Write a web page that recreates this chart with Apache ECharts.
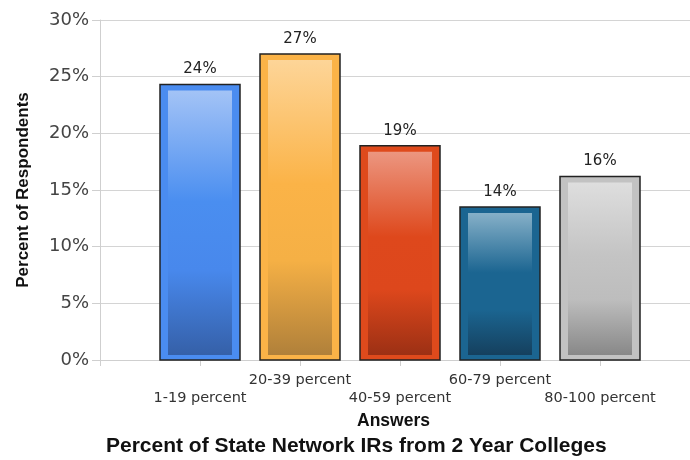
<!DOCTYPE html>
<html>
<head>
<meta charset="utf-8">
<script src="https://cdn.jsdelivr.net/npm/echarts@6/dist/echarts.min.js"></script>
<style>
html,body{margin:0;padding:0;background:#fff;}
#chart{width:690px;height:460px;}
</style>
</head>
<body>
<div id="chart"></div>
<script>
// ---- data ----
const categories = ['1-19 percent', '20-39 percent', '40-59 percent', '60-79 percent', '80-100 percent'];
const values = [24.3, 27.0, 18.9, 13.5, 16.2];
const yTicks = [0, 5, 10, 15, 20, 25, 30];
const titleText = 'Percent of State Network IRs from 2 Year Colleges';
const xAxisName = 'Answers';
const yAxisName = 'Percent of Respondents';

// ---- styles ----
const barStyles = [
  { frame: '#4a8cf0', stops: ['#a3c3f6', '#4a8ef0', '#4888ec', '#3560a8'] },
  { frame: '#fbb347', stops: ['#fdd598', '#fbb347', '#f5b045', '#b0803a'] },
  { frame: '#df4a1c', stops: ['#ec9680', '#de481c', '#dd471c', '#9c3014'] },
  { frame: '#1b6591', stops: ['#86b0c8', '#1b6591', '#1b6591', '#15405e'] },
  { frame: '#c2c2c2', stops: ['#dedede', '#c4c4c4', '#bdbdbd', '#888888'] }
];

// category positions on the x axis (1..n), axis spans 0 .. n+0.9
const catPos = categories.map((c, i) => i + 1);
const seriesData = values.map((v, i) => [catPos[i], v]);

const chart = echarts.init(document.getElementById('chart'), null, { renderer: 'canvas' });
chart.setOption({
  animation: false,
  backgroundColor: '#fff',
  title: {
    text: titleText,
    left: 106,
    top: 436,
    padding: 0,
    textStyle: { fontFamily: 'Liberation Sans, Arial', fontWeight: 'bold', fontSize: 21, color: '#111' }
  },
  grid: { left: 100, right: 0, top: 20, bottom: 100, containLabel: false, outerBoundsMode: 'none' },
  xAxis: {
    type: 'value',
    min: 0,
    max: categories.length + 0.9,
    interval: 1,
    name: xAxisName,
    nameLocation: 'middle',
    nameGap: 52,
    nameTextStyle: { fontFamily: 'Liberation Sans, Arial', fontWeight: 'bold', fontSize: 17.5, color: '#111', padding: [0, 3, 0, 0] },
    axisLine: { show: true, onZero: false, lineStyle: { color: '#cfcfcf', width: 1 } },
    axisTick: {
      show: true,
      length: 6,
      lineStyle: { color: '#cfcfcf' }
    },
    axisLabel: {
      show: true,
      showMinLabel: true,
      showMaxLabel: true,
      hideOverlap: false,
      margin: 11,
      lineHeight: 18,
      fontFamily: 'DejaVu Sans',
      fontSize: 14.5,
      color: '#333',
      formatter: function (value) {
        const r = Math.round(value);
        if (Math.abs(value - r) > 1e-6) return '';
        const i = r - 1;
        const name = categories[i];
        if (!name) return '';
        return (i % 2 === 0) ? '\n' + name : name;
      }
    },
    splitLine: { show: false }
  },
  yAxis: {
    type: 'value',
    min: yTicks[0],
    max: yTicks[yTicks.length - 1],
    interval: yTicks[1] - yTicks[0],
    name: yAxisName,
    nameLocation: 'middle',
    nameRotate: 90,
    nameGap: 68,
    nameTextStyle: { fontFamily: 'Liberation Sans, Arial', fontWeight: 'bold', fontSize: 17, color: '#111' },
    axisLine: { show: true, lineStyle: { color: '#cfcfcf', width: 1 } },
    axisTick: { show: true, length: 8, lineStyle: { color: '#cfcfcf' } },
    axisLabel: {
      margin: 11,
      fontFamily: 'DejaVu Sans',
      fontSize: 18,
      color: '#444',
      formatter: '{value}%'
    },
    splitLine: { lineStyle: { color: '#d4d4d4', width: 1 } }
  },
  series: [{
    type: 'custom',
    data: seriesData,
    encode: { x: 0, y: 1 },
    renderItem: function (params, api) {
      const xi = api.value(0);
      const v = api.value(1);
      const top = api.coord([xi, v]);
      const base = api.coord([xi, 0]);
      const w = api.size([1, 0])[0] * 0.8;
      const left = top[0] - w / 2;
      const h = base[1] - top[1];
      const st = barStyles[params.dataIndex];
      const insX = 8, insTop = 6, insBot = 5;
      return {
        type: 'group',
        children: [
          {
            type: 'rect',
            shape: { x: left, y: top[1], width: w, height: h },
            style: { fill: st.frame, stroke: '#222', lineWidth: 1.5 }
          },
          {
            type: 'rect',
            shape: { x: left + insX, y: top[1] + insTop, width: w - 2 * insX, height: h - insTop - insBot },
            style: {
              fill: new echarts.graphic.LinearGradient(0, 0, 0, 1, [
                { offset: 0, color: st.stops[0] },
                { offset: 0.42, color: st.stops[1] },
                { offset: 0.68, color: st.stops[2] },
                { offset: 1, color: st.stops[3] }
              ])
            }
          },
          {
            type: 'text',
            style: {
              text: Math.round(v) + '%',
              x: top[0],
              y: top[1] - 15,
              textAlign: 'center',
              textVerticalAlign: 'middle',
              font: '15px "DejaVu Sans"',
              fill: '#222'
            }
          }
        ]
      };
    }
  }]
});
</script>
</body>
</html>
